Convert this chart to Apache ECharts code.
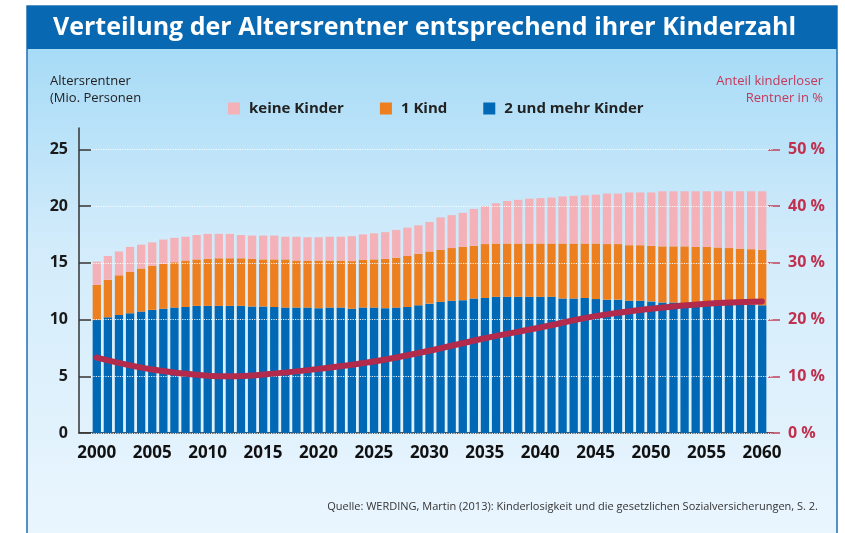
<!DOCTYPE html>
<html>
<head>
<meta charset="utf-8">
<script src="https://cdn.jsdelivr.net/npm/echarts@6/dist/echarts.min.js"></script>
<style>html,body{margin:0;padding:0;background:#fff}#c{width:845px;height:533px}</style>
</head>
<body>
<div id="c"></div>
<script>
// ---- data ----
const years = [];
for (let y = 2000; y <= 2060; y++) years.push(String(y));

// 2 und mehr Kinder (Mio.)
const zweiUndMehr = [9.95,10.2,10.4,10.55,10.7,10.85,10.95,11.05,11.1,11.2,
  11.2,11.2,11.2,11.2,11.15,11.15,11.1,11.05,11.05,11.05,
  11.0,11.05,11.05,10.95,11.05,11.05,11.0,11.05,11.1,11.25,
  11.4,11.55,11.65,11.7,11.85,11.9,12.0,12.0,12.0,12.0,
  12.0,12.0,11.85,11.85,11.9,11.8,11.75,11.75,11.65,11.65,
  11.6,11.5,11.5,11.45,11.4,11.4,11.35,11.35,11.3,11.3,11.25];
// 1 Kind (Mio.)
const einKind = [3.1,3.3,3.5,3.65,3.8,3.9,3.95,4.0,4.1,4.1,
  4.15,4.2,4.2,4.2,4.2,4.15,4.2,4.25,4.15,4.15,
  4.2,4.15,4.15,4.2,4.2,4.25,4.35,4.4,4.5,4.55,
  4.6,4.6,4.65,4.7,4.65,4.75,4.7,4.7,4.7,4.7,
  4.7,4.7,4.85,4.85,4.8,4.9,4.9,4.9,4.9,4.9,
  4.9,4.95,4.95,5.0,5.0,5.0,5.0,4.95,4.95,4.9,4.9];
// keine Kinder (Mio.)
const keineKinder = [2.05,2.1,2.1,2.2,2.1,2.05,2.15,2.15,2.1,2.15,
  2.2,2.15,2.15,2.05,2.05,2.1,2.1,2.0,2.1,2.05,
  2.05,2.1,2.1,2.2,2.25,2.3,2.35,2.45,2.5,2.5,
  2.6,2.85,2.9,3.0,3.25,3.35,3.55,3.75,3.85,3.95,
  4.0,4.05,4.15,4.2,4.25,4.3,4.45,4.45,4.65,4.65,
  4.7,4.85,4.85,4.85,4.9,4.9,4.95,5.0,5.05,5.1,5.15];
// Anteil kinderloser Rentner in %
const anteilYears = [2000,2005,2010,2012,2015,2020,2025,2030,2035,2040,2045,2050,2055,2060];
const anteilWerte = [13.3,11.2,10.1,10.0,10.3,11.3,12.6,14.5,16.7,18.6,20.6,21.9,22.8,23.2];

const xTicks = [2000,2005,2010,2015,2020,2025,2030,2035,2040,2045,2050,2055,2060];
const leftTicks = [0,5,10,15,20,25];
const rightTicks = [0,10,20,30,40,50];

const FONT = 'Open Sans';
const chart = echarts.init(document.getElementById('c'), null, {renderer:'canvas'});

const TOP = 128, BOTTOM = 100, LMAX = 26.88, RMAX = 53.76;

chart.setOption({
  animation: false,
  textStyle: { fontFamily: FONT },
  graphic: [
    { type:'rect', z:-10, shape:{x:27,y:6,width:810,height:540},
      style:{ fill: new echarts.graphic.LinearGradient(0,0,0,1,[
        {offset:0,color:'#9dd7f5'},{offset:0.45,color:'#d3ecfb'},{offset:1,color:'#ebf6fe'}]),
        stroke:'#1f6fb5', lineWidth:1.5 } },
    { type:'rect', z:-9, shape:{x:27,y:6,width:810,height:43}, style:{ fill:'#0868b2' } },
    { type:'text', z:5, style:{ x:53, y:28, text:'Verteilung der Altersrentner entsprechend ihrer Kinderzahl',
        fill:'#fff', font:'bold 25px "Open Sans"', verticalAlign:'middle' } },
    { type:'text', z:5, style:{ x:50, y:90, text:'Altersrentner\n(Mio. Personen', fill:'#222',
        font:'13px "Open Sans"', lineHeight:17, verticalAlign:'middle' } },
    { type:'text', z:5, style:{ x:823, y:90, text:'Anteil kinderloser\nRentner in %', fill:'#c4385a',
        font:'13px "Open Sans"', lineHeight:17, align:'right', verticalAlign:'middle' } },
    { type:'text', z:5, style:{ x:818, y:507, text:'Quelle: WERDING, Martin (2013): Kinderlosigkeit und die gesetzlichen Sozialversicherungen, S. 2.',
        fill:'#333', font:'11px "Open Sans"', align:'right', verticalAlign:'middle' } }
  ],
  legend: {
    left: 228, top: 101, padding: 0,
    itemWidth: 12, itemHeight: 12, itemGap: 36,
    icon: 'rect',
    data: ['keine Kinder','1 Kind','2 und mehr Kinder'],
    textStyle: { fontSize: 15, fontWeight: 'bold', color: '#222', padding:[0,0,0,4] }
  },
  grid: [
    { left: 91.25, right: 77.25, top: TOP, bottom: BOTTOM },
    { left: 79, right: 72, top: TOP, bottom: BOTTOM }
  ],
  xAxis: [
    { type: 'category', gridIndex: 0, data: years, boundaryGap: true, show: false },
    { type: 'value', gridIndex: 1, min: 1998.4, max: 2061,
      axisLine: { show: true, lineStyle: { color: '#222', width: 1.5 } },
      axisTick: { show: false },
      splitLine: { show: false },
      axisLabel: { customValues: xTicks, formatter: v => String(v), fontSize: 17, fontWeight: 'bold',
        color: '#111', margin: 12 } }
  ],
  yAxis: [
    { type: 'value', gridIndex: 0, min: 0, max: LMAX, show: false, splitLine: { show: false } },
    { type: 'value', gridIndex: 1, min: 0, max: LMAX, position: 'left', z: 3,
      axisLine: { show: true, lineStyle: { color: '#333', width: 1.5 } },
      axisTick: { show: true, inside: true, length: 12, customValues: leftTicks, lineStyle: { color: '#333', width: 1.5 } },
      axisLabel: { customValues: leftTicks, fontSize: 16, fontWeight: 'bold', color: '#1a1a1a', margin: 11 },
      splitLine: { show: true, lineStyle: { color: 'rgba(255,255,255,0.9)', type: 'dotted', width: 1.2 } }
    },
    { type: 'value', gridIndex: 1, min: 0, max: RMAX, position: 'right', offset: -5,
      axisLine: { show: false },
      axisTick: { show: true, length: 12, customValues: rightTicks, lineStyle: { color: '#c0405a', width: 1.5 } },
      axisLabel: { customValues: rightTicks, formatter: '{value} %', fontSize: 16, fontWeight: 'bold', color: '#c0304f', margin: 20 },
      splitLine: { show: false }
    }
  ],
  series: [
    { name: '2 und mehr Kinder', type: 'bar', xAxisIndex: 0, yAxisIndex: 0, stack: 'a', barWidth: 8.3,
      data: zweiUndMehr, itemStyle: { color: '#0068b4' } },
    { name: '1 Kind', type: 'bar', xAxisIndex: 0, yAxisIndex: 0, stack: 'a', barWidth: 8.3,
      data: einKind, itemStyle: { color: '#ee7f1f' } },
    { name: 'keine Kinder', type: 'bar', xAxisIndex: 0, yAxisIndex: 0, stack: 'a', barWidth: 8.3,
      data: keineKinder, itemStyle: { color: '#f4b1b7' } },
    { name: 'Anteil', type: 'line', xAxisIndex: 1, yAxisIndex: 2, smooth: 0.4, symbol: 'none', z: 5,
      data: anteilYears.map((y,i) => [y, anteilWerte[i]]),
      lineStyle: { color: '#b22a4c', width: 6, cap: 'round' } }
  ]
});
</script>
</body>
</html>
